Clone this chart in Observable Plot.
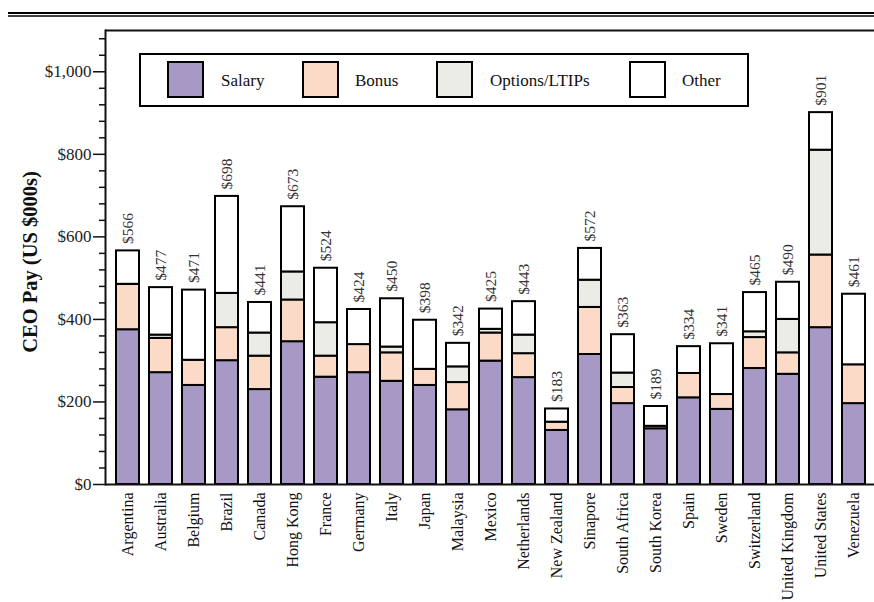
<!DOCTYPE html>
<html>
<head>
<meta charset="utf-8">
<script src="https://cdn.jsdelivr.net/npm/d3@7"></script>
<script src="https://cdn.jsdelivr.net/npm/@observablehq/plot@0.6"></script>
<style>
  html, body { margin: 0; padding: 0; background: white; }
</style>
</head>
<body>
<div id="chart"></div>
<script>
const countries = ["Argentina","Australia","Belgium","Brazil","Canada","Hong Kong","France","Germany","Italy","Japan","Malaysia","Mexico","Netherlands","New Zealand","Sinapore","South Africa","South Korea","Spain","Sweden","Switzerland","United Kingdom","United States","Venezuela"];
const salary  = [375,271,240,300,230,346,260,271,250,240,181,299,259,131,315,196,135,210,182,281,267,380,196];
const bonus   = [110, 83, 61, 80, 81,101, 51, 68, 69, 39, 66, 68, 58, 20,114, 39,  6, 59, 36, 75, 52,176, 94];
const options = [  0,  8,  0, 83, 56, 68, 81,  0, 14,  0, 38,  9, 45,  0, 66, 35,  0,  0,  0, 14, 81,254,  0];
const other   = [ 81,115,170,235, 74,158,132, 85,117,119, 57, 49, 81, 32, 77, 93, 48, 65,123, 95, 90, 91,171];
const categories = ["Salary","Bonus","Options/LTIPs","Other"];
const colors = ["#a898c6","#fcdac8","#ecece7","#ffffff"];
const majorTicks = [0,200,400,600,800,1000];
const minorTicks = [40,80,120,160,240,280,320,360,440,480,520,560,640,680,720,760,840,880,920,960,1040,1080];

const series = [salary, bonus, options, other];
const rows = countries.flatMap((c, i) => series.map((s, k) => ({country: c, cat: categories[k], value: s[i]}))).filter(d => d.value > 0);
const totals = countries.map((c, i) => salary[i] + bonus[i] + options[i] + other[i]);
const fmt = d3.format(",");

const svg = Plot.plot({
  width: 874,
  height: 602,
  marginTop: 30,
  marginBottom: 118,
  marginLeft: 105,
  marginRight: 0,
  style: {fontFamily: "'Liberation Serif', serif", fontSize: "17px", background: "white", color: "#111"},
  x: {type: "band", domain: countries, range: [104, 877], paddingInner: 0.29, paddingOuter: 0.145, axis: null},
  y: {domain: [0, 1100], axis: null},
  color: {domain: categories, range: colors},
  marks: [
    Plot.barY(rows, {x: "country", y: "value", fill: "cat", stroke: "black", strokeWidth: 2, order: categories}),
    Plot.text(countries, {x: d => d, y: (d, i) => totals[i], text: (d, i) => "$" + fmt(totals[i]), rotate: -90, textAnchor: "start", dy: -7, fontSize: 15.5, fill: "#333"}),
    Plot.axisY(minorTicks, {tickSize: 6, text: null, label: null, strokeWidth: 1.5}),
    Plot.axisY(majorTicks, {tickSize: 12, tickPadding: 2, tickFormat: d => "$" + fmt(d), fontSize: 17, label: null, strokeWidth: 1.5, fill: "#222"}),
    Plot.axisX({tickSize: 0, tickRotate: -90, tickPadding: 8, fontSize: 16, label: null, fill: "#111"}),
    Plot.ruleY([0, 1100], {strokeWidth: 2}),
    Plot.frame({anchor: "left", strokeWidth: 2})
  ]
});

const g = d3.select(svg);
// top double rule
g.append("line").attr("x1", 8).attr("x2", 874).attr("y1", 13).attr("y2", 13).attr("stroke", "black").attr("stroke-width", 1.8);
g.append("line").attr("x1", 8).attr("x2", 874).attr("y1", 16).attr("y2", 16).attr("stroke", "black").attr("stroke-width", 1.4);

// y-axis title
g.append("text")
  .attr("transform", "translate(32,262) rotate(-90)")
  .attr("text-anchor", "middle")
  .attr("dominant-baseline", "middle")
  .attr("font-family", "'Liberation Serif', serif")
  .attr("font-weight", "bold")
  .attr("font-size", 20.5)
  .attr("fill", "#111")
  .text("CEO Pay (US $000s)");

// legend
const lg = g.append("g").attr("font-family", "'Liberation Serif', serif").attr("font-size", 17).attr("text-anchor", "start");
lg.append("rect").attr("x", 140).attr("y", 54).attr("width", 608).attr("height", 52).attr("fill", "white").attr("stroke", "black").attr("stroke-width", 2);
const swX = [168, 303, 437, 630];
const txX = [221, 355, 490, 682];
categories.forEach((c, k) => {
  lg.append("rect").attr("x", swX[k]).attr("y", 62).attr("width", 35).attr("height", 35).attr("fill", colors[k]).attr("stroke", "black").attr("stroke-width", 2);
  lg.append("text").attr("x", txX[k]).attr("y", 86).attr("text-anchor", "start").attr("font-size", 17).attr("fill", "#111").text(c);
});

document.getElementById("chart").appendChild(svg);
</script>
</body>
</html>
